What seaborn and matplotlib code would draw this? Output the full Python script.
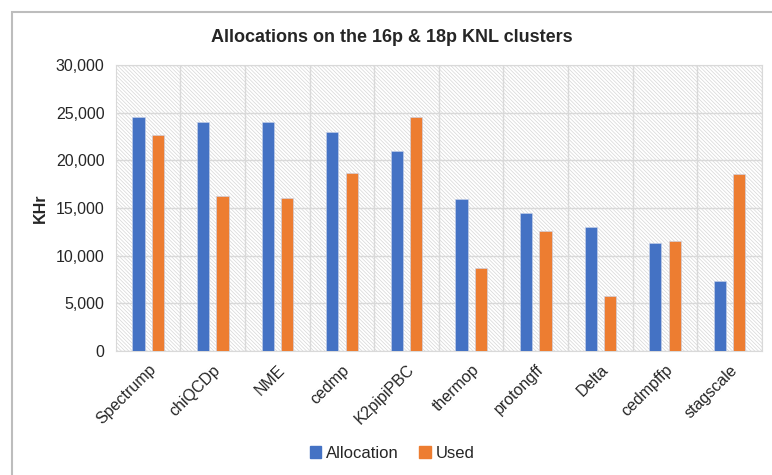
import pandas as pd
import numpy as np

import matplotlib.pyplot as plt
import matplotlib.patches as mpatches
import seaborn as sns


projects = ['Spectrump', 'chiQCDp', 'NME', 'cedmp', 'K2pipiPBC',
            'thermop', 'protongff', 'Delta', 'cedmpffp', 'stagscale']
allocation = [24500, 24000, 24000, 23000, 21000, 16000, 14500, 13000, 11300, 7300]
used = [22700, 16300, 16100, 18700, 24500, 8700, 12600, 5800, 11500, 18600]

series = ['Allocation', 'Used']
colors = ['#4472C4', '#ED7D31']

df = pd.DataFrame({'project': projects * 2,
                   'serie': ['Allocation'] * len(projects) + ['Used'] * len(projects),
                   'khr': allocation + used})

sns.set_style('white')
plt.rcParams['font.family'] = ['Liberation Sans', 'DejaVu Sans']
plt.rcParams['hatch.linewidth'] = 0.5

fig = plt.figure(figsize=(7.72, 4.75), dpi=100)
ax = fig.add_axes([0.150, 0.261, 0.837, 0.602])

# fons ratllat
ax.add_patch(mpatches.Rectangle((0, 0), 1, 1, transform=ax.transAxes, facecolor='white',
                                edgecolor='#d6d6d6', hatch='\\' * 9, linewidth=0, zorder=0))

sns.barplot(data=df, x='project', y='khr', hue='serie', order=projects, hue_order=series,
            palette=colors, saturation=1, width=0.6, gap=0.37, ax=ax, legend=False, zorder=3,
            edgecolor='#c9d3ea', linewidth=0.4)

ax.set_ylim(0, 30000)
ax.set_xlim(-0.5, len(projects) - 0.5)
ax.set_yticks(np.arange(0, 30001, 5000))
ax.set_yticklabels([f'{v:,}' for v in range(0, 30001, 5000)], fontsize=11.5, color='#262626')
ax.set_xticks(np.arange(len(projects)) + 0.5, minor=True)
ax.grid(axis='y', color='#d9d9d9', linewidth=1, zorder=1)
ax.grid(axis='x', which='minor', color='#d9d9d9', linewidth=1, zorder=1)
ax.grid(axis='x', which='major', visible=False)
ax.tick_params(axis='both', length=0, pad=8)
ax.tick_params(axis='x', which='minor', length=0)
for lbl in ax.get_xticklabels():
    lbl.set_rotation(45)
    lbl.set_ha('right')
    lbl.set_rotation_mode('anchor')
    lbl.set_fontsize(11.5)
    lbl.set_color('#262626')
for s in ax.spines.values():
    s.set_color('#d9d9d9')
    s.set_zorder(1)

ax.set_xlabel('')
ax.set_ylabel('KHr', fontsize=11.5, fontweight='bold', labelpad=6)
fig.text(0.508, 0.92, 'Allocations on the 16p & 18p KNL clusters', ha='center', va='center',
         fontsize=13, fontweight='bold')

handles = [mpatches.Patch(color=c, label=s) for c, s in zip(colors, series)]
fig.legend(handles=handles, loc='center', bbox_to_anchor=(0.508, 0.046), ncol=2,
           frameon=False, fontsize=12, handlelength=0.7, handleheight=0.7,
           handletextpad=0.3, columnspacing=1.2)

# marc de la captura
fig.add_artist(mpatches.Rectangle((0.016, -0.01), 0.99, 0.985, transform=fig.transFigure,
                                  fill=False, edgecolor='#bdbdbd', linewidth=1.5))

fig.savefig('out.png', dpi=100)
